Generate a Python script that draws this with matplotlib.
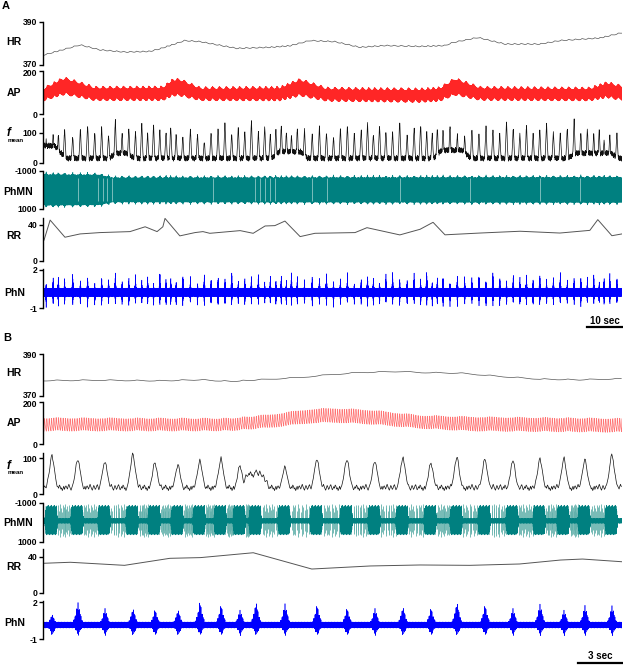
import numpy as np
import matplotlib.pyplot as plt
from matplotlib.transforms import ScaledTranslation

plt.rcParams['font.family'] = ['Liberation Sans', 'DejaVu Sans']
plt.rcParams['font.weight'] = 'bold'

W, H = 623, 666
X0, X1 = 43, 622          # pixel columns of the trace area

# ---------------- panel A (about 160 s) ----------------
A_SPAN = 160.0
A_hr_t = [0, 4.4, 10, 15.5, 22.4, 29.3, 32.1, 39, 43.2, 53.4, 62.6, 68.1, 73.6, 80.5, 87.4,
          94.4, 104.1, 111, 113.2, 120.1, 127.6, 137.3, 142.8, 153.9, 160]
A_hr = [374.6, 376.6, 379.2, 376.9, 375.9, 376.2, 377.4, 381.2, 380.7, 377.6, 378.1, 378.8, 381.2,
        380.7, 378.1, 378.9, 378.5, 378.9, 380.3, 382.6, 379.6, 379.6, 381.2, 382.4, 384.8]

A_ap_t = [0, 5, 6.4, 14.1, 32.9, 35.7, 37.6, 43.2, 65.3, 70.9, 78.3, 104.1, 109.6, 113.8,
          120.7, 151.1, 155.8, 160]
A_ap_dia = [64, 90, 90, 65, 65, 86, 86, 65, 64, 86, 62, 57, 62, 90, 66, 64, 78, 66]
A_ap_sys = [116, 160, 160, 120, 121, 156, 156, 118, 120, 156, 116, 112, 118, 160, 120, 116, 142, 126]

A_rr_t = [0, 1.7, 5.8, 10, 15.5, 23.8, 28, 31.3, 32.9, 33.5, 37.6, 41.8, 44, 45.9, 54.3, 57.9,
          61.2, 63.9, 66.7, 70.9, 75, 86.1, 89.4, 98.5, 104.1, 107.7, 111, 120.7, 131.8, 142.8,
          151.1, 153.3, 157.2, 160]
A_rr = [23, 45.5, 26.3, 30, 31.5, 32.6, 38, 32.6, 38, 47.4, 27.8, 31.5, 32.6, 30.7, 33.7, 30.7,
        38.9, 39.3, 44.4, 27, 30.7, 31.5, 37, 28.9, 35.2, 43, 29, 31, 33, 31, 34, 46, 28, 30]

A_fm_peaks = [75, 90, 95, 110, 88, 112, 125, 100, 118, 92, 140, 98, 115, 105, 130, 96, 122, 108,
              100, 118, 92, 85, 110, 95, 70, 105, 112, 128, 96, 117, 104, 138, 100, 120, 95, 110,
              126, 102, 90, 115, 108, 96, 118, 100, 85, 112, 124, 98, 110, 132, 95, 120, 106, 100,
              140, 92, 115, 128, 102, 97, 118, 110, 125, 95, 90, 112, 100, 120, 108, 96, 134, 115,
              100, 122, 95, 110, 128, 105, 98, 118, 140, 100, 112, 95, 108]
A_fm_base_t = [0, 3, 6, 18, 20, 23, 25, 63, 65, 71, 73, 108, 110, 116, 118, 145, 147, 157, 159, 160]
A_fm_base = [55, 55, 13, 13, 30, 30, 13, 13, 35, 35, 13, 13, 40, 40, 13, 13, 30, 30, 13, 13]

A_phn_peaks = [1.1, 1.6, 1.9, 1.5, 2.0, 1.4, 1.8, 1.2, 1.7, 1.5, 2.1, 1.3, 1.6, 1.9, 1.4, 1.8,
               1.2, 2.2, 1.5, 1.7, 1.3, 1.9, 1.6, 1.1, 2.0, 1.4, 1.8, 1.5, 2.2, 1.3, 1.7, 1.6,
               2.0, 1.2, 1.8, 1.5, 1.9, 1.4, 2.1, 1.6, 1.3, 1.8, 1.7, 2.2, 1.4, 1.6, 1.9, 1.2,
               1.5, 2.0, 1.7, 1.3, 1.8, 2.1, 1.6, 1.4, 1.9, 1.5, 2.3, 1.3, 1.7, 1.8, 1.2, 2.0,
               1.6, 1.5, 1.9, 1.4, 2.2, 1.7, 1.3, 1.8, 1.6, 2.0, 1.5, 1.9, 1.4, 1.7, 2.1, 1.3,
               1.6, 1.8, 1.5, 1.9]

A_phmn_t = [0, 15, 19, 160]
A_phmn_amp = [820, 800, 650, 670]
A_phmn_gaps = [9.4, 14.9, 16.3, 17.4, 18.8, 46.8, 58.4, 59.8, 61.2, 62.6, 63.9, 74.2, 78.3,
               98.5, 117.9, 137.3, 148.4]

# ---------------- panel B (about 39.5 s) ----------------
B_SPAN = 39.5
B_hr_t = [0, 3.8, 7.9, 10.66, 12.7, 17.5, 19.5, 21.6, 24.3, 25.7, 28.4, 31.2, 33.9, 36.6, 39.5]
B_hr = [377.1, 377.3, 377.0, 377.5, 376.7, 378.6, 379.9, 381.0, 381.5, 381.0, 380.7, 379.1,
        377.8, 377.5, 378.0]

B_ap_t = [0, 10.66, 12.7, 15.5, 18.2, 19.9, 22.3, 25.7, 29.1, 39.5]
B_ap_dia = [63, 63, 64, 79, 100, 103, 95, 75, 63, 57]
B_ap_sys = [122, 120, 120, 138, 163, 167, 159, 134, 127, 119]

B_rr_t = [0, 1.8, 5.5, 8.6, 10.7, 14.3, 18.3, 22.3, 25.7, 29.1, 32.5, 35.3, 36.8, 39.5]
B_rr = [32.7, 33.8, 30.4, 38.2, 39, 44.4, 26.3, 29.7, 30.8, 30.4, 31.9, 36.3, 37.4, 34.4]

B_breath_t = [0.55, 2.32, 4.17, 6.08, 7.59, 9.16, 10.66, 12.1, 13.4, 14.49, 16.47, 18.66, 20.71,
              22.62, 24.53, 26.45, 28.22, 30.14, 32.05, 33.9, 35.54, 36.97, 38.82]
B_fm_peaks = [109, 100, 95, 112, 90, 84, 95, 100, 81, 68, 78, 102, 100, 95, 105, 88, 105, 100,
              95, 100, 100, 97, 112]
B_fm_base_t = [0, 13.5, 13.9, 14.9, 15.4, 39.5]
B_fm_base = [18, 18, 55, 55, 18, 18]
B_phn_peaks = [1.09, 2.16, 1.62, 1.62, 1.49, 1.49, 2.16, 1.89, 1.49, 2.16, 2.03, 1.89, 1.62,
               1.62, 1.76, 1.62, 2.16, 1.89, 1.62, 2.03, 1.49, 1.89, 1.89]

# ---------------- shape templates ----------------
AP_BEAT = [0.0, 0.45, 0.95, 1.0, 0.8, 0.62, 0.5, 0.4, 0.3, 0.22, 0.14, 0.06]
RESP_WAVE = [0.0, 0.6, 1.0, 0.8, 0.5, 0.25, 0.0, -0.2, -0.35, -0.3, -0.15, 0.0]
NOISE = [0.62, -0.41, 0.93, -0.77, 0.18, -0.95, 0.55, -0.20, 0.84, -0.66, 0.31, -0.88, 0.71,
         -0.05, 0.97, -0.52, 0.12, -0.73, 0.46, -0.99, 0.79, -0.34, 0.25, -0.81, 0.68, -0.14,
         0.90, -0.59, 0.38, -0.92, 0.07, -0.47, 0.86, -0.70, 0.52, -0.28, 0.99, -0.63, 0.21,
         -0.85, 0.43]
FM_NOISE = [0.2, 0.5, 0.1, -0.3, 0.4, 0.9, 0.3, -0.2, -0.6, 0.0, 0.6, 0.2, -0.4, -0.1, 0.5,
            0.8, 0.1, -0.5, -0.2, 0.3, -0.1, 0.7, 0.4, -0.3, 0.0, -0.7, -0.2, 0.4, -0.4]
FM_PULSE_T = [-0.5, -0.35, -0.2, -0.1, 0.0, 0.1, 0.2, 0.35, 0.5]
FM_PULSE = [0, 0.25, 0.55, 0.85, 1.0, 0.8, 0.5, 0.2, 0]
PHN_A_ENV_T = [-0.35, -0.2, -0.1, -0.03, 0.0, 0.05, 0.12, 0.25, 0.4]
PHN_A_ENV = [0, 0.25, 0.45, 0.75, 1.0, 0.7, 0.4, 0.15, 0]
PHN_B_ENV_T = [-0.45, -0.3, -0.18, -0.08, 0.0, 0.08, 0.18, 0.3, 0.45]
PHN_B_ENV = [0, 0.2, 0.4, 0.7, 1.0, 0.75, 0.45, 0.2, 0]
PHMN_B_ENV_T = [-0.5, -0.42, 0.3, 0.38]
PHMN_B_ENV = [0, 1, 1, 0]
SPIKE_FRAC = [0.04, 0.1, 0.17, 0.22, 0.3, 0.36, 0.43, 0.5, 0.55, 0.63, 0.7, 0.76, 0.83, 0.9, 0.96]
SPIKE_H = [0.9, 0.6, 1.0, 0.75, 0.5, 0.95, 0.8, 0.65, 1.0, 0.7, 0.85, 0.55, 0.95, 0.75, 0.6, 0.9, 0.8]

TEAL = '#008080'


def cycle_phase(t, marks):
    i = np.clip(np.searchsorted(marks, t) - 1, 0, len(marks) - 2)
    return np.mod((t - marks[i]) / (marks[i + 1] - marks[i]), 1.0)


def resp_wave(t, marks):
    return np.interp(cycle_phase(t, marks), np.linspace(0, 1, len(RESP_WAVE)), RESP_WAVE)


def breath_marks(rr_t, rr, span, t0):
    out = [t0]
    while out[-1] < span + 3:
        out.append(out[-1] + 60.0 / np.interp(out[-1], rr_t, rr))
    return np.array(out)


def burst_sum(t, marks, peaks, env_t, env):
    e_max = np.zeros_like(t)
    scaled = np.zeros_like(t)
    for tb, pk in zip(marks, peaks):
        e = np.interp(t, tb + np.array(env_t), env, left=0, right=0)
        e_max = np.maximum(e_max, e)
        scaled = np.maximum(scaled, e * pk)
    return e_max, scaled


def ap_trace(hr_t, hr, ap_t, dia, sys_, span, marks, resp_amp):
    beats = [0.0]
    while beats[-1] < span:
        beats.append(beats[-1] + 60.0 / np.interp(beats[-1], hr_t, hr))
    beats = np.array(beats)
    frac = np.arange(len(AP_BEAT)) / len(AP_BEAT)
    t = (beats[:-1, None] + np.diff(beats)[:, None] * frac).ravel()
    shape = np.tile(AP_BEAT, len(beats) - 1)
    lo = np.interp(t, ap_t, dia)
    hi = np.interp(t, ap_t, sys_)
    return t, lo + (hi - lo) * shape + resp_amp * resp_wave(t, marks)


def fmean_trace(span, rate, marks, peaks, base_t, base, noise_amp):
    t = np.arange(0, span, 1.0 / rate)
    nz = np.resize(FM_NOISE, t.size)
    floor = np.interp(t, base_t, base) + noise_amp * nz
    _, pulse = burst_sum(t, marks, peaks, FM_PULSE_T, FM_PULSE)
    return t, np.maximum(floor, pulse * (1 + 0.08 * nz))


def phn_trace(span, rate, marks, peaks, centre, base_amp, down_amp, env_t, env, sharp_pow):
    # background noise band plus bursts; a higher power makes the burst spikes sparser
    t = np.arange(0, span, 1.0 / rate)
    nz = np.resize(NOISE, t.size)
    sharp = np.abs(nz) ** sharp_pow
    e, up = burst_sum(t, marks, np.asarray(peaks) - centre, env_t, env)
    amp_up = np.maximum(base_amp * np.abs(nz), up * sharp)
    amp_dn = np.maximum(base_amp * np.abs(nz), e * down_amp * sharp)
    return t, centre + np.where(nz > 0, amp_up, -amp_dn)


fig = plt.figure(figsize=(W / 100, H / 100), dpi=100)


def add_row(y_top, y_bot, ya, va, yb, vb, span, bounds, labels, shift=(0, 0)):
    ax = fig.add_axes([X0 / W, 1 - y_bot / H, (X1 - X0) / W, (y_bot - y_top) / H])
    k = (vb - va) / (yb - ya)
    ax.set_ylim(va + (y_bot - ya) * k, va + (y_top - ya) * k)
    ax.set_xlim(-span / (X1 - X0 - 1), span)
    ax.patch.set_visible(False)
    for s in ['top', 'right', 'bottom']:
        ax.spines[s].set_visible(False)
    ax.spines['left'].set_bounds(*bounds)
    ax.spines['left'].set_linewidth(1.0)
    ax.set_xticks([])
    ax.set_yticks([va, vb])
    ax.set_yticklabels(labels)
    ax.tick_params(axis='y', length=3, width=1.0, pad=1, labelsize=6.2)
    # nudge crowded labels apart (pixels, positive = up)
    for lab, dy in zip(ax.get_yticklabels(), shift):
        if dy:
            lab.set_transform(lab.get_transform() + ScaledTranslation(0, dy / 100, fig.dpi_scale_trans))
    return ax


def ptext(x, y, s, **kw):
    fig.text(x / W, 1 - y / H, s, ha='center', va='center', **kw)


def scale_bar(x0, x1, y, ytxt, label):
    fig.add_artist(plt.Line2D([x0 / W, x1 / W], [1 - y / H, 1 - y / H], color='black', lw=1.6))
    ptext((x0 + x1) / 2, ytxt, label, fontsize=7)


def draw_panel(rows, span, hr_t, hr, ap, marks, fm, phn, phmn, rr_t, rr, ap_style):
    ax = add_row(*rows[0], span, (370, 390), ['390', '370'], shift=(0, 1.5))
    th = np.arange(0, span, 0.05)
    ax.plot(th, np.interp(th, hr_t, hr) + 0.35 * resp_wave(th, marks), color='#555555', lw=0.5)

    ax = add_row(*rows[1], span, (0, 200), ['200', '0'], shift=(-1.5, 0))
    ax.plot(ap[0], ap[1], color='#ff0000', **ap_style)

    ax = add_row(*rows[2][:6], span, (0, rows[2][6]), ['100', '0'])
    ax.plot(fm[0], fm[1], color='#111111', lw=0.5)

    ax = add_row(*rows[3], span, (-1000, 1000), ['-1000', '1000'])
    phmn(ax)

    ax = add_row(*rows[4][:6], span, (0, rows[4][6]), ['40', '0'])
    ax.plot(rr_t, rr, color='#555555', lw=0.7)

    ax = add_row(*rows[5], span, (-1, 2.1), ['2', '-1'])
    ax.plot(phn[0], phn[1], color='#0000ff', lw=0.4)


# ---------------- panel A ----------------
A_marks = breath_marks(A_rr_t, A_rr, A_SPAN, 0.6)
nA = len(A_marks)
A_ap = ap_trace(A_hr_t, A_hr, A_ap_t, A_ap_dia, A_ap_sys, A_SPAN, A_marks, 10)
A_fm = fmean_trace(A_SPAN, 25, A_marks, np.resize(A_fm_peaks, nA), A_fm_base_t, A_fm_base, 12)
A_phn = phn_trace(A_SPAN, 100, A_marks, np.resize(A_phn_peaks, nA), 0.25, 0.33, 1.2,
                  PHN_A_ENV_T, PHN_A_ENV, 1.0)


def phmn_a(ax):
    t = np.arange(0, A_SPAN, 0.01)
    e, _ = burst_sum(t, A_marks, np.ones(nA), PHN_B_ENV_T, PHN_B_ENV)
    amp = np.interp(t, A_phmn_t, A_phmn_amp) + 130 * e
    ax.plot(t, np.resize(NOISE, t.size) * amp, color=TEAL, lw=0.4)
    ax.vlines(A_phmn_gaps, -600, 600, color='#a9d6d2', lw=0.5)


A_rows = [(12, 68, 21.7, 390, 65, 370),
          (66, 118, 70.7, 200, 114.3, 0),
          (114, 168, 132.7, 100, 162.5, 0, 148),
          (166, 213, 170.7, -1000, 209, 1000),
          (212, 265, 225, 40, 260.7, 0, 47.5),
          (262, 316, 270, 2, 308.3, -1)]
draw_panel(A_rows, A_SPAN, A_hr_t, A_hr, A_ap, A_marks, A_fm, A_phn, phmn_a, A_rr_t, A_rr,
           dict(lw=0.4, alpha=0.85))

# ---------------- panel B ----------------
B_marks = np.array(B_breath_t)
B_ap = ap_trace(B_hr_t, B_hr, B_ap_t, B_ap_dia, B_ap_sys, B_SPAN, B_marks, 4)
B_fm = fmean_trace(B_SPAN, 20, B_marks, B_fm_peaks, B_fm_base_t, B_fm_base, 11)
B_phn = phn_trace(B_SPAN, 200, B_marks, B_phn_peaks, 0.15, 0.25, 0.95, PHN_B_ENV_T, PHN_B_ENV, 3.0)


def phmn_b(ax):
    t = np.arange(0, B_SPAN, 0.005)
    nz = np.resize(NOISE, t.size)
    e, _ = burst_sum(t, B_marks, np.ones(len(B_marks)), PHMN_B_ENV_T, PHMN_B_ENV)
    amp_up = 130 + e * (810 - 130)
    amp_dn = 130 + e * (730 - 130)
    sp_t = []
    for a, b in zip(B_marks[:-1], B_marks[1:]):
        for f in SPIKE_FRAC:
            sp_t.append(a + 0.4 + f * (b - a - 0.85))
    h = np.resize(SPIKE_H, len(sp_t))
    ax.vlines(sp_t, -70 - 880 * h, -70 + 820 * h, color='#5fb0aa', lw=0.6)
    ax.plot(t, -70 + np.where(nz < 0, nz * amp_up, nz * amp_dn), color=TEAL, lw=0.4)


B_rows = [(346, 400, 354, 390, 395.5, 370),
          (398, 449, 401.7, 200, 444.3, 0),
          (448, 500, 458.3, 100, 494.3, 0, 115),
          (500, 546, 502.7, -1000, 541.7, 1000),
          (546, 597, 556.7, 40, 592.7, 0, 49),
          (597, 648, 602, 2, 639.3, -1)]
draw_panel(B_rows, B_SPAN, B_hr_t, B_hr, B_ap, B_marks, B_fm, B_phn, phmn_b, B_rr_t, B_rr,
           dict(lw=0.5, alpha=0.55))

# ---------------- labels ----------------
ptext(6, 6, 'A', fontsize=8)
ptext(7, 338, 'B', fontsize=8)
for yl in [(42, 93, 133, 141, 192, 236, 293), (373, 423, 466, 473, 522.5, 567, 623.5)]:
    ptext(14, yl[0], 'HR', fontsize=7.5)
    ptext(14, yl[1], 'AP', fontsize=7.5)
    ptext(9, yl[2], 'f', fontsize=8.5, style='italic')
    ptext(16, yl[3], 'mean', fontsize=4.5)
    ptext(18.5, yl[4], 'PhMN', fontsize=7.5)
    ptext(14, yl[5], 'RR', fontsize=7.5)
    ptext(15, yl[6], 'PhN', fontsize=7.5)

scale_bar(587, 623, 327, 320.5, '10 sec')
scale_bar(578, 622, 662.5, 656, '3 sec')

fig.savefig('out.png', dpi=100)
